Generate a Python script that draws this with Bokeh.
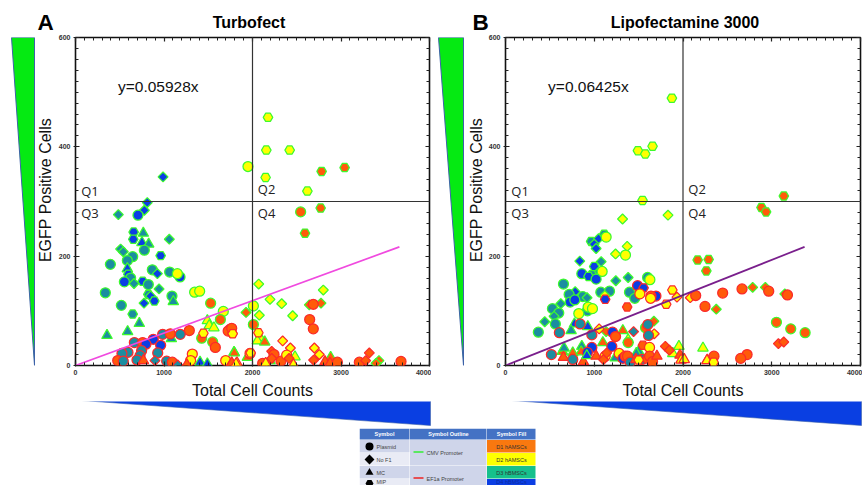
from bokeh.plotting import figure
from bokeh.layouts import row, column
from bokeh.core.properties import value
from bokeh.models import ColumnDataSource, FixedTicker, LinearAxis, Range1d, Span, Label
from bokeh.embed import file_html
from bokeh.resources import INLINE

# kind code: shape (c circle, d diamond, t triangle, h hexagon), outline (g green, r red),
# fill (o orange, y yellow, t teal, b blue)
a_x = [2175, 2156, 2420, 1949, 2148, 2781, 3041, 2620, 2544, 2770, 2593,
       989, 811, 778, 484, 706, 657, 766, 653, 751, 827, 1060, 510, 540, 778, 962, 646, 586, 394,
       586, 868, 925, 1064, 1181, 1151, 597, 623, 552, 759, 661, 823, 337, 1346, 1403, 944, 823,
       849, 1090, 1105, 891, 774, 518, 646,
       1527, 1670, 1637, 1490, 1511, 1564, 721, 589, 356, 1927, 1426, 1550, 1083, 1791, 2070, 2198, 2330,
       2077, 2010, 2454, 2800, 2642, 2774, 2010, 2085, 2055, 2138, 1795, 1942, 2198, 2480, 2883, 3429, 3396,
       1286, 665, 985, 1071, 1184, 1445, 759, 879, 962, 796, 747, 593, 525, 729, 929, 477, 540, 695, 767,
       898, 1030, 1094, 1154, 1320, 1301, 1257, 1407, 1490, 1697, 1765, 1825,
       1580, 1745, 1725, 1772, 1972, 2687, 2646, 2687, 1765, 1776, 2066, 2341, 2428, 2217, 2243, 2217, 1979,
       2115, 2149, 2322, 2386, 2413, 2462, 2699, 2755, 2691, 2819, 2876, 2959, 3207, 3279, 3320, 3678, 1765, 1814]
a_y = [454, 394, 394, 364, 344, 355, 362, 319, 281, 288, 242,
       345, 298, 284, 276, 275, 244, 242, 231, 225, 222, 231, 213, 208, 211, 201, 199, 192, 185,
       177, 175, 168, 171, 162, 168, 167, 160, 153, 154, 150, 148, 133, 134, 136, 140, 130,
       127, 127, 117, 118, 114, 110, 94,
       114, 99, 84, 82, 73, 69, 77, 62, 55, 97, 50, 43, 49, 24, 149, 121, 113,
       92, 109, 91, 138, 111, 114, 75, 51, 45, 43, 23, 15, 9, 16, 15, 9, 4,
       64, 42, 57, 58, 57, 59, 42, 48, 37, 39, 27, 24, 22, 18, 23, 9, 8, 10, 9,
       9, 8, 6, 1, 21, 9, 1.5, 6, 3, 9, 5, 5,
       33, 66, 63, 59, 22, 112, 84, 67, 68, 58, 60, 45, 32, 26, 20, 13, 23,
       4, 4, 8, 19, 13, 1.5, 32, 20, 10, 7, 4, 6, 6, 9, 23, 7.5, 4, 3]
a_kind = ("hgy hgy hgy cgy hgy hgo hgo hgy cgo hgo hgo "
          "dgb dgb dgb dgt cgb hgb tgt hgb tgb tgt dgt dgt dgt cgt hgb cgt cgt cgt "
          "tgb cgt dgb cgt cgb cgy hgb cgt cgb hgb dgt cgt cgt cgy cgy dgt hgt "
          "dgb cgt tgt hgb dgb cgt hgt "
          "cgo cgy cgo tgy tgy tgy tgt tgt tgt dgo cgo cgo tgt tgo dgy dgy dgy "
          "dgy cgy dgy dgy dgo dgo cgo tgy tgy tgo tgo tgo tgo tgy tgo dgo dgo "
          "cro crt crt cro crt hry cro crb crb crb crt crt crt crt crt cro crt crt tro "
          "drt crt cro drt cry cry tro tgb tgb cry tro try "
          "cro cro cro hry cry cro cro cro cro hry hry dry dry dro cro dro hry "
          "cro try cro cry dro try dry dry dro tro tro cro cro dro dro cro tro try").split()

b_x = [1875, 1492, 1575, 1657, 1544, 1319, 1831, 3136, 2884, 2936,
       1112, 965, 1048, 999, 1021, 1134, 1240, 1371, 1352, 837, 1078, 999, 1051, 1089, 860, 973, 935, 1021,
       653, 1243, 1382, 1601, 1627, 785, 717, 871, 919, 1074, 1172, 1397, 1457, 1119,
       728, 781, 623, 529, 923, 931, 980, 600, 547, 826, 442, 562, 370,
       2165, 2289, 2263, 1672, 1578, 777, 927, 739, 1134, 1322, 1382, 1382, 1097, 860, 1501, 1474,
       1954, 1885, 2225, 641, 660, 758, 853, 2785, 2928, 3147, 2375, 3053, 3214, 3376, 1236,
       1123, 1488, 1556, 1514, 1880, 1695, 1639, 1635, 1932, 1811, 1371, 2082, 2143, 2248,
       1604, 841, 607, 973, 1055, 1206, 1240, 1443, 1676, 1612, 973, 1198, 1548, 1623, 1801, 1846,
       1966, 1978, 2014, 2274, 517, 653, 758, 878, 923, 916, 1021, 1123, 1104, 1141, 1281, 1322,
       1349, 1375, 1405, 1469, 1537, 1594, 1501, 1623, 1657, 1706,
       2447, 2665, 2966, 3177, 3075, 3135, 2722, 2650, 2349, 2270, 2345]
b_y = [489, 393, 387, 401, 302, 268, 275, 310, 289, 281,
       240, 227, 232, 222, 214, 235, 204, 218, 202, 191, 190, 181, 171, 172, 168, 166, 163, 158,
       149, 155, 161, 161, 157, 135, 130, 126, 124, 134, 136, 134, 123, 128,
       116, 120, 113, 104, 100, 107, 104, 96, 90, 95, 80, 76, 61,
       193, 194, 173, 81, 69, 76, 71, 64, 62, 64, 47, 42, 42, 35, 26, 22,
       35, 22, 32, 26, 32, 23, 25, 143, 143, 131, 103, 79, 67, 60, 14,
       121, 146, 142, 131, 138, 127, 127, 123, 125, 112, 107, 124, 128, 108,
       75, 76, 60, 56, 67, 61, 53, 62, 58, 55, 33, 35, 37, 33, 35, 28,
       19, 10, 11, 10, 20, 15, 11, 7, 24, 18, 17, 17, 11, 23, 22, 13,
       17, 17, 6, 11, 11, 12, 10, 17, 7, 17,
       132.5, 140, 136, 129, 40, 43, 20, 13, 17, 9, 6]
b_kind = ("hgy hgy hgy hgy hgy dgy dgy hgo hgo hgo "
          "hgt hgt dgb dgb dgb cgy dgy dgy cgy dgb dgt hgb dgt cgy cgb hgt hgb cgb "
          "cgt dgt dgt cgt cgy dgb cgt cgt dgt cgt cgt cgt cgt dgy "
          "cgb cgb dgt cgt cgt cgy cgy cgt dgt cgy dgt cgt cgt "
          "hgo hgo hgo dgo cgo tgb tgb tgt dgo tgo tgy cgo tgo tgt tgt tgt "
          "tgy tgy tgy tgo tgt tgo tgo dgo dgo dgo dgo cgo cgo cgo tgt "
          "hrb crb hrb cry hry crb cro cry dry hry hro dry cro cro "
          "crt crt crt crt dry crb cro drt dry crt crb crb hro cry dro dro "
          "tro try try try crt tro crt tro crb tgb tro cry dro dro cry crb "
          "cro cro crt tro crt hro hry cro cro tro "
          "cro cro cro cro dro dro cro cro cro try hry").split()

fit_a_x = [0, 3660]
fit_a_y = [0, 217]
fit_b_x = [0, 3370]
fit_b_y = [0, 217]
x_ticks = [0, 1000, 2000, 3000, 4000]
y_ticks = [0, 200, 400, 600]
x_minor = list(range(0, 4001, 100))
y_minor = list(range(0, 601, 20))
table_headers = ["Symbol", "Symbol Outline", "Symbol Fill"]
table_symbols = ["Plasmid", "No F1", "MC", "MIP"]
table_fills = ["D1 hAMSCs", "D2 hAMSCs", "D3 hBMSCs", "D4 hBMSCs"]
table_promoters = ["CMV Promoter", "EF1a Promoter"]

FILL = {"o": "#ff5a0a", "y": "#ffff00", "t": "#1b8da0", "b": "#0b3ee4"}
EDGE = {"g": "#3dfa2e", "r": "#fb2a2a"}
SHAPE = {"c": "circle", "d": "square", "t": "triangle", "h": "hex"}
SIZE = {"c": 10, "d": 7, "t": 10.5, "h": 9.5}
ANGLE = {"c": 0, "d": 0.7854, "t": 0, "h": 0}
FONT = "Liberation Sans"
FONT_V = value(FONT)

TOP_H, PLOT_H, WEDGE_H, TABLE_H = 34, 367, 27, 57
FRAME_TOP, FRAME_BOTTOM = 37, 366


def strip(width, height, x0, y_top, y_bottom, **kw):
    s = figure(width=width, height=height, output_backend="svg", toolbar_location=None,
               x_range=Range1d(x0, x0 + width), y_range=Range1d(y_bottom, y_top),
               x_axis_location=None, y_axis_location=None, min_border=0, **kw)
    s.grid.visible = False
    s.outline_line_color = None
    return s


def panel(width, left, right, xs, ys, kinds, fit_x, fit_y, fit_color, eq):
    p = figure(width=width, height=PLOT_H, output_backend="svg", toolbar_location=None,
               x_range=Range1d(0, 4000), y_range=Range1d(0, 600), min_border_left=left,
               min_border_right=right, min_border_top=FRAME_TOP - TOP_H,
               min_border_bottom=TOP_H + PLOT_H - FRAME_BOTTOM,
               x_axis_location=None, y_axis_location=None)
    p.grid.visible = False
    p.outline_line_color = "#111111"
    p.outline_line_width = 1.6
    for side, show in (("below", True), ("left", True), ("above", False), ("right", False)):
        ticks, minor = (x_ticks, x_minor) if side in ("below", "above") else (y_ticks, y_minor)
        ax = LinearAxis(ticker=FixedTicker(ticks=ticks, minor_ticks=minor))
        ax.axis_line_color = None
        ax.major_tick_in = 4
        ax.major_tick_out = {"below": 1, "left": 2}.get(side, 0)
        ax.minor_tick_in = 3
        ax.minor_tick_out = 0
        ax.major_tick_line_color = ax.minor_tick_line_color = "#222222"
        ax.major_tick_line_width = 1.2
        ax.major_label_text_font = FONT
        ax.major_label_text_font_style = "bold"
        ax.major_label_text_font_size = "7px" if show else "0px"
        ax.major_label_text_color = "#333333" if show else None
        ax.major_label_standoff = 3 if show else 0
        if side == "below":
            ax.axis_label = "Total Cell Counts"
            ax.axis_label_text_font = FONT
            ax.axis_label_text_font_size = "16px"
            ax.axis_label_text_font_style = "normal"
            ax.axis_label_text_color = "#111111"
            ax.axis_label_standoff = 4
        p.add_layout(ax, side)

    p.add_layout(Span(location=2000, dimension="height", line_color="#333333", line_width=1.2))
    p.add_layout(Span(location=300, dimension="width", line_color="#333333", line_width=1.2))

    src = ColumnDataSource(dict(x=xs, y=ys, marker=[SHAPE[k[0]] for k in kinds],
                                line=[EDGE[k[1]] for k in kinds], fill=[FILL[k[2]] for k in kinds],
                                size=[SIZE[k[0]] for k in kinds], angle=[ANGLE[k[0]] for k in kinds]))
    p.scatter("x", "y", source=src, marker="marker", size="size", angle="angle", fill_color="fill",
              line_color="line", line_width=1.25)
    p.line(fit_x, fit_y, line_color=fit_color, line_width=1.7)

    for txt, x, y, base in (("Q1", 65, 303, "bottom"), ("Q2", 2060, 307, "bottom"),
                            ("Q3", 65, 296, "top"), ("Q4", 2060, 296, "top")):
        p.add_layout(Label(x=x, y=y, text=txt, text_font="Open Sans", text_font_size="13px",
                           text_color="#222222", text_baseline=base))
    p.add_layout(Label(x=480, y=510, text=eq, text_font=FONT, text_font_size="15.5px",
                       text_color="#111111", text_baseline="middle"))
    return p


def side_strip(x0, width, wedge_x, label_x):
    # the row aligns this strip's frame with the plot frame beside it
    s = strip(width, PLOT_H, x0, FRAME_TOP, FRAME_BOTTOM)
    s.patch(wedge_x, [37, 37, 366], fill_color="#05ea12", line_color="#3d62a8", line_width=1)
    s.text([label_x], [190], text=["EGFP Positive Cells"], angle=1.5708, text_font=FONT_V,
           text_font_size="16px", text_color="#111111", text_align="center", text_baseline="middle")
    return s


top = strip(862, TOP_H, 0, 0, TOP_H)
for tx, x, y, size, align in (("A", 37, 22, "22.5px", "left"), ("Turbofect", 248.5, 22, "16px", "center"),
                              ("B", 472, 22, "22.5px", "left"), ("Lipofectamine 3000", 684.5, 22, "16px", "center")):
    top.text([x], [y], text=[tx], text_font=FONT_V, text_font_style="bold", text_font_size=size,
             text_color="#000000", text_align=align, text_baseline="middle")

side_a = side_strip(0, 54, [11, 34, 34], 45)
side_b = side_strip(431, 53, [438, 463, 463], 476)
a = panel(377, 21, 2, a_x, a_y, a_kind, fit_a_x, fit_a_y, "#f04adf", "y=0.05928x")
b = panel(378, 21, 2, b_x, b_y, b_kind, fit_b_x, fit_b_y, "#7a1f8c", "y=0.06425x")

wedge_top = TOP_H + PLOT_H
wedges = strip(862, WEDGE_H, 0, wedge_top, wedge_top + WEDGE_H)
wedges.patch([81, 430, 430], [400, 400, 425], fill_color="#0a3fe2", line_color="#3d62a8", line_width=0.6)
wedges.patch([511, 861, 861], [400, 400, 425], fill_color="#0a3fe2", line_color="#3d62a8", line_width=0.6)

# legend table
t = figure(width=177, height=TABLE_H, output_backend="svg", toolbar_location=None, x_range=Range1d(0, 177),
           y_range=Range1d(57, 0), x_axis_location=None, y_axis_location=None, min_border=0,
           margin=(0, 0, 0, 359))
t.grid.visible = False
t.outline_line_color = None
t.quad(left=[0, 50.5, 127.5], right=[50, 127, 176], top=[0, 0, 0], bottom=[11, 11, 11], fill_color="#4472c4", line_color=None)
t.quad(left=[0, 0, 0, 0], right=[50] * 4, top=[11.5, 24.5, 37.5, 50.5], bottom=[24, 37, 50, 63],
       fill_color=["#cfd5ea", "#e9ebf5", "#cfd5ea", "#e9ebf5"], line_color=None)
t.quad(left=[50.5, 50.5], right=[127, 127], top=[11.5, 37.5], bottom=[37, 63], fill_color="#cfd5ea", line_color=None)
t.quad(left=[127.5] * 4, right=[176] * 4, top=[11.5, 24.5, 37.5, 50.5], bottom=[24, 37, 50, 63],
       fill_color=["#f9780f", "#ffff00", "#16c08c", "#0b3ee4"], line_color=None)
TEXT_Y = [18, 31, 44, 53]
for tx, x in zip(table_headers, [25, 89, 152]):
    t.text([x], [5.5], text=[tx], text_font=FONT_V, text_font_size="5.5px", text_baseline="middle", text_align="center",
           text_color="#ffffff", text_font_style="bold")
for tx, y in zip(table_symbols, TEXT_Y):
    t.text([17], [y], text=[tx], text_font=FONT_V, text_font_size="5.5px", text_baseline="middle", text_align="left",
           text_color="#444444")
for tx, y, col in zip(table_fills, TEXT_Y, ["#333333", "#333333", "#333333", "#0a2aa0"]):
    t.text([152], [y], text=[tx], text_font=FONT_V, text_font_size="5.5px", text_baseline="middle", text_align="center",
           text_color=col)
for tx, y in zip(table_promoters, [24, 50]):
    t.text([67], [y], text=[tx], text_font=FONT_V, text_font_size="5.5px", text_baseline="middle", text_align="left",
           text_color="#444444")
t.segment(x0=[54, 54], y0=[23.5, 49.5], x1=[64, 64], y1=[23.5, 49.5], line_color=["#33ee33", "#ee2222"], line_width=1.5)
t.scatter([10], [18], marker="circle", size=8, fill_color="#000000", line_color=None)
t.scatter([10], [31], marker="square", angle=0.7854, size=7, fill_color="#000000", line_color=None)
t.scatter([10], [44], marker="triangle", size=8, fill_color="#000000", line_color=None)
t.scatter([10], [55], marker="hex", size=8, fill_color="#000000", line_color=None)

root = column(top, row(side_a, a, side_b, b, spacing=0), wedges, t, spacing=0)
open("out.html", "w").write(file_html(root, INLINE))
